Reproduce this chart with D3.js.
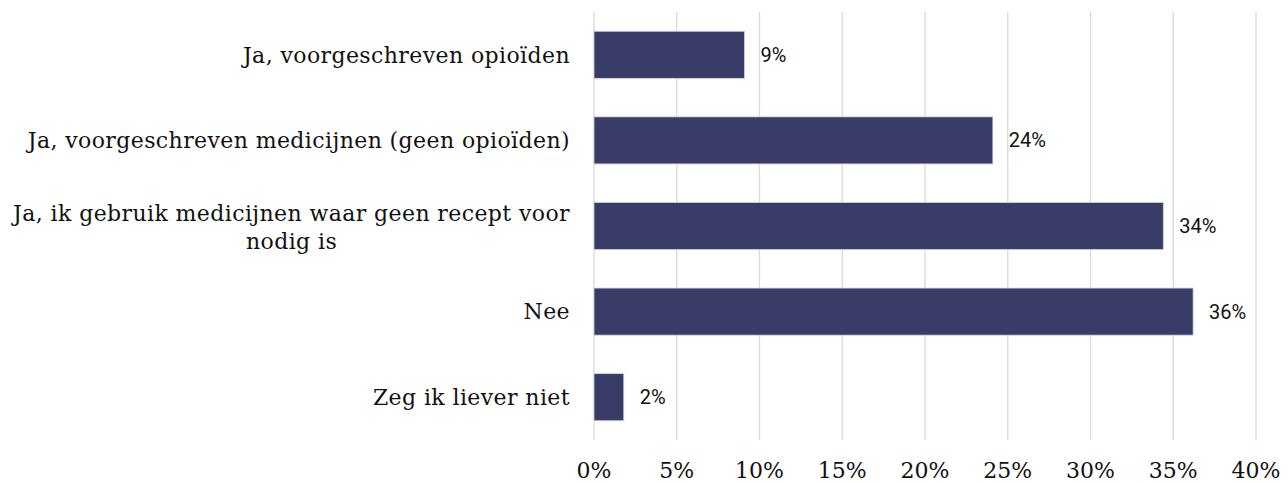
<!DOCTYPE html>
<meta charset="utf-8">
<style>
body { margin: 0; background: #fff; }
.grid line { stroke: #d9d9d9; stroke-width: 1.3px; }
.cat text { font-family: "DejaVu Serif", "Liberation Serif", serif; font-size: 22px; letter-spacing: 0.4px; fill: #111; }
.xaxis text { font-family: "DejaVu Serif", "Liberation Serif", serif; font-size: 22px; fill: #111; font-feature-settings: "onum"; }
.lbl { font-family: Roboto, "Liberation Sans", sans-serif; font-size: 20px; fill: #111; }
</style>
<svg width="1288" height="483"></svg>
<script src="https://d3js.org/d3.v7.min.js"></script>
<script>

// data
var categories = [
  "Ja, voorgeschreven opioïden",
  "Ja, voorgeschreven medicijnen (geen opioïden)",
  "Ja, ik gebruik medicijnen waar geen recept voor|nodig is",
  "Nee",
  "Zeg ik liever niet"
];
var values = [9.1, 24.1, 34.4, 36.2, 1.8];
var valueLabels = ["9%", "24%", "34%", "36%", "2%"];
var xTicks = [0, 5, 10, 15, 20, 25, 30, 35, 40];

var svg = d3.select("svg");

var x = d3.scaleLinear().domain([0, 40]).range([594, 1256]);
var y = d3.scaleBand().domain(d3.range(categories.length)).range([12, 440]).paddingInner(0.45).paddingOuter(0.225);

// gridlines
svg.append("g").attr("class", "grid")
  .selectAll("line")
  .data(xTicks)
  .enter().append("line")
    .attr("x1", function(d) { return x(d); })
    .attr("x2", function(d) { return x(d); })
    .attr("y1", 12)
    .attr("y2", 440);

// bars
svg.append("g")
  .selectAll("rect")
  .data(values)
  .enter().append("rect")
    .attr("x", x(0))
    .attr("y", function(d, i) { return y(i); })
    .attr("width", function(d) { return x(d) - x(0); })
    .attr("height", y.bandwidth())
    .attr("fill", "#383c66")
    .attr("stroke", "#d0d3e6")
    .attr("stroke-width", 0.8);

// value labels
svg.append("g")
  .selectAll("text")
  .data(values)
  .enter().append("text")
    .attr("class", "lbl")
    .attr("x", function(d) { return x(d) + 16; })
    .attr("y", function(d, i) { return y(i) + y.bandwidth() / 2; })
    .attr("dy", "0.35em")
    .text(function(d, i) { return valueLabels[i]; });

// category labels
var cat = svg.append("g").attr("class", "cat");
categories.forEach(function(c, i) {
  var lines = c.split("|");
  var cy = y(i) + y.bandwidth() / 2;
  if (lines.length === 1) {
    cat.append("text")
      .attr("x", 570)
      .attr("y", cy)
      .attr("dy", "0.35em")
      .attr("text-anchor", "end")
      .text(c);
  } else {
    var lh = 28;
    var t = cat.append("text").attr("text-anchor", "middle");
    var first = t.append("tspan").text(lines[0]);
    var w = first.node().getComputedTextLength();
    var cx = 570 - w / 2;
    var y0 = cy - 13;
    t.selectAll("tspan").remove();
    lines.forEach(function(l, k) {
      t.append("tspan").attr("x", cx).attr("y", y0 + k * lh).attr("dy", "0.35em").text(l);
    });
  }
});

// x axis labels
svg.append("g").attr("class", "xaxis")
  .selectAll("text")
  .data(xTicks)
  .enter().append("text")
    .attr("x", function(d) { return x(d); })
    .attr("y", 478)
    .attr("text-anchor", "middle")
    .text(function(d) { return d + "%"; });

</script>
